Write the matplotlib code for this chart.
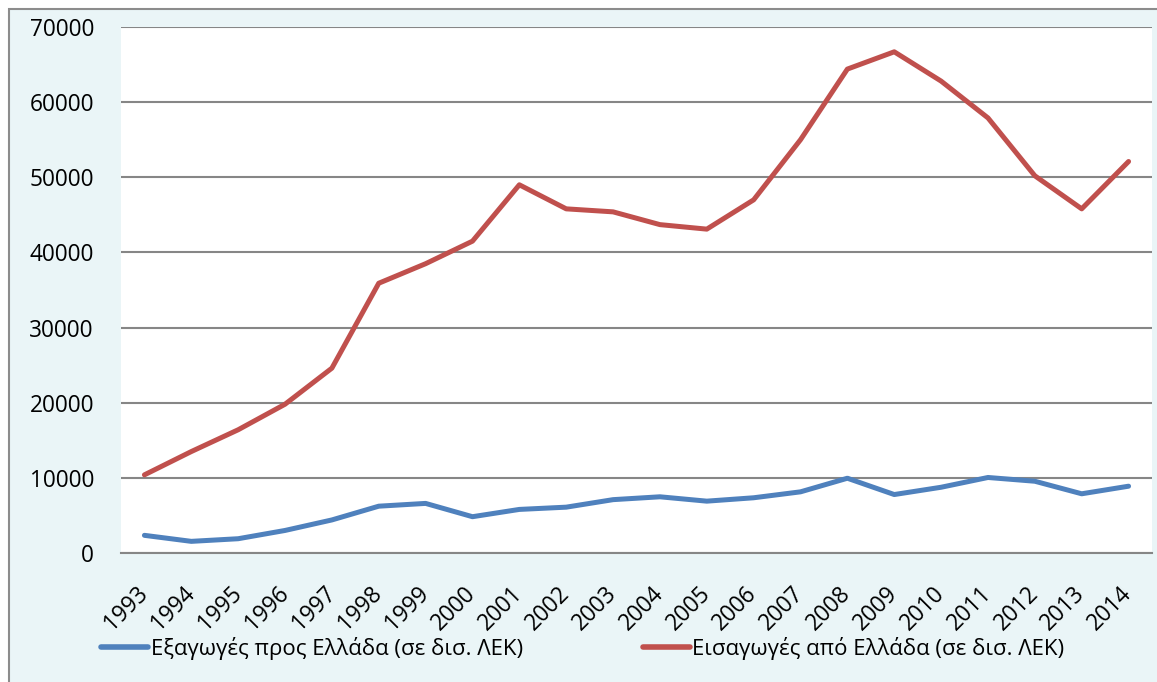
import matplotlib
matplotlib.use("Agg")
import matplotlib.pyplot as plt
from matplotlib.patches import Rectangle

plt.rcParams['font.family'] = ['Open Sans', 'DejaVu Sans']

years = [str(y) for y in range(1993, 2015)]
exports = [2350, 1550, 1900, 3000, 4400, 6230, 6600, 4830, 5800, 6100, 7100,
           7480, 6900, 7350, 8140, 9950, 7780, 8750, 10050, 9550, 7880, 8890]
imports = [10400, 13500, 16400, 19800, 24600, 35900, 38500, 41500, 49000, 45800,
           45400, 43700, 43100, 47000, 55000, 64400, 66700, 62800, 57900, 50200,
           45800, 52100]
yticks = [0, 10000, 20000, 30000, 40000, 50000, 60000, 70000]
label_exp = "Εξαγωγές προς Ελλάδα (σε δισ. ΛΕΚ)"
label_imp = "Εισαγωγές από Ελλάδα (σε δισ. ΛΕΚ)"

W, H = 1157, 682
fig = plt.figure(figsize=(W / 100, H / 100), dpi=100, facecolor='white')
bg = Rectangle((9 / W, -0.1), 1.2, (H - 9) / H + 0.1, transform=fig.transFigure,
               facecolor='#EAF5F7', edgecolor='#8C8C8C', linewidth=1.5, zorder=-10)
fig.add_artist(bg)

ax = fig.add_axes([121 / W, (H - 553) / H, (1152 - 121) / W, (553 - 27) / H])
ax.set_facecolor('white')
x = range(len(years))
ax.plot(x, exports, color='#4F81BD', lw=3.6, solid_capstyle='round', label=label_exp, zorder=3)
ax.plot(x, imports, color='#C0504D', lw=3.6, solid_capstyle='round', label=label_imp, zorder=3)

ax.set_xlim(-0.5, len(years) - 0.5)
ax.set_ylim(0, 70000)
ax.set_yticks(yticks)
ax.set_yticklabels([str(v) for v in yticks], fontsize=16.3)
ax.set_xticks(list(x))
ax.set_xticklabels(years, fontsize=16.3, rotation=45, ha='right', va='center',
                   rotation_mode='anchor')
ax.tick_params(axis='both', length=0)
ax.tick_params(axis='y', pad=19.5)
ax.tick_params(axis='x', pad=26.5)
ax.grid(axis='y', color='#868686', lw=1.5)
ax.set_axisbelow(True)
for s in ['left', 'right', 'top']:
    ax.spines[s].set_visible(False)
ax.spines['bottom'].set_color('#868686')
ax.spines['bottom'].set_linewidth(1.5)

leg = ax.legend(loc='center', bbox_to_anchor=(0.448, -0.182), ncol=2, frameon=False,
                fontsize=16, handlelength=2.1, handletextpad=0.12,
                columnspacing=5.4)
for l in leg.get_lines():
    l.set_linewidth(4)

fig.savefig('out.png', dpi=100, facecolor='white')
